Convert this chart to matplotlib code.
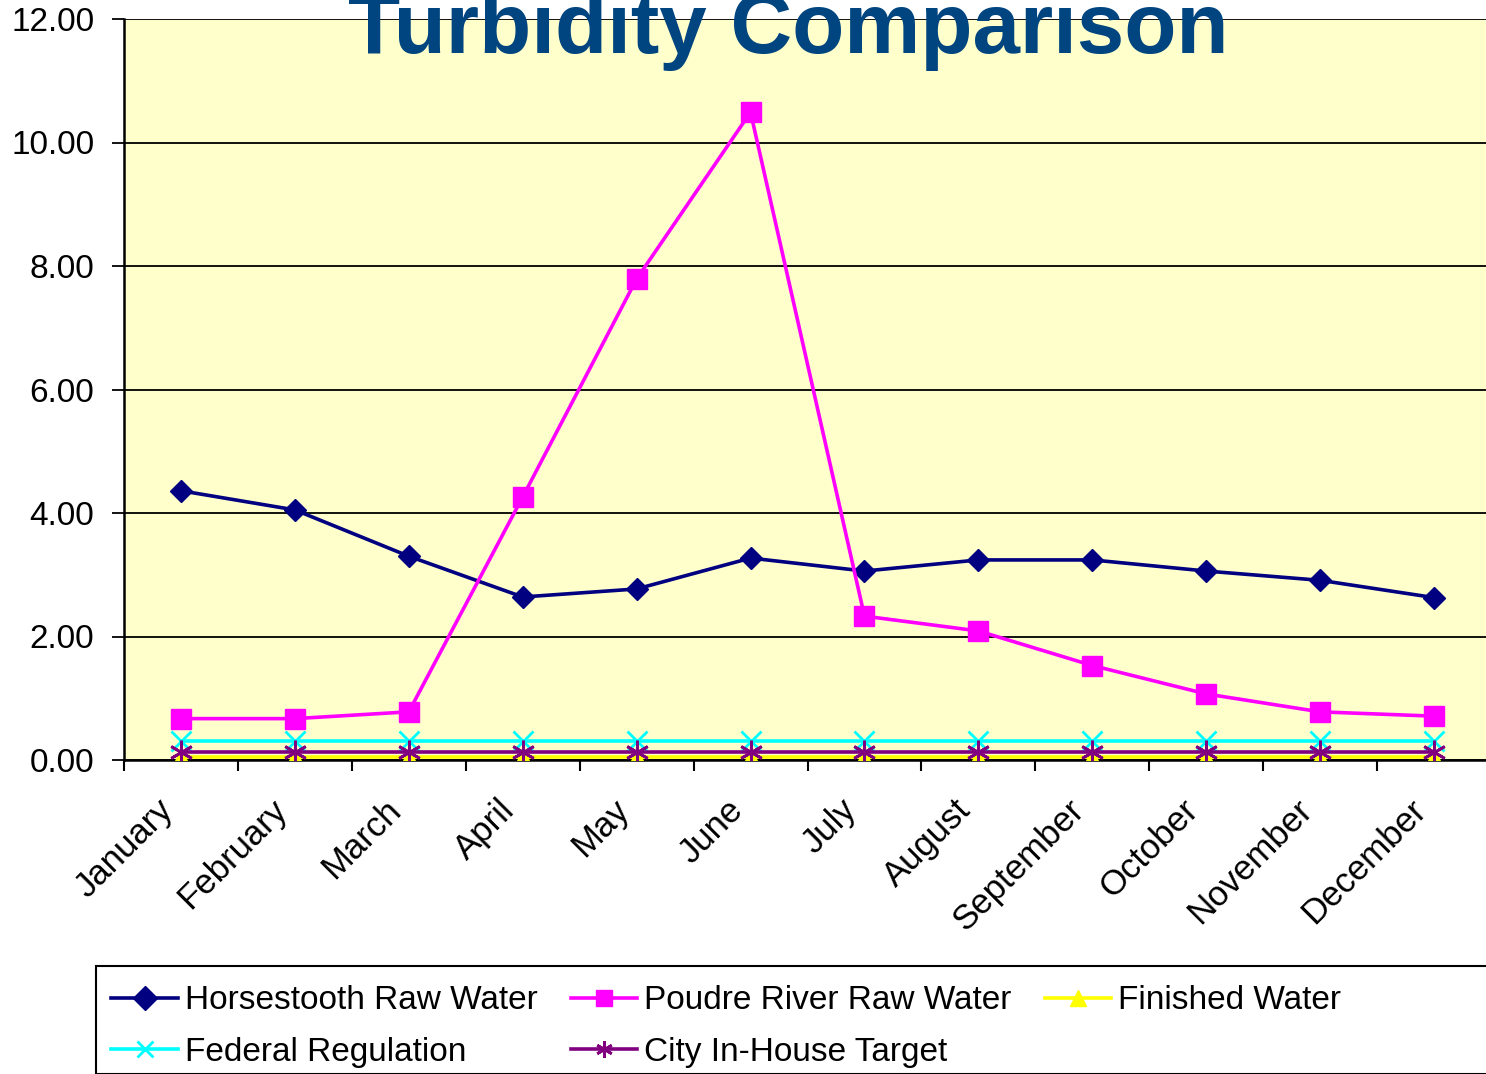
import matplotlib
matplotlib.use("Agg")
import matplotlib.pyplot as plt
from matplotlib.patches import Rectangle
from matplotlib.transforms import ScaledTranslation
import numpy as np

plt.rcParams['font.family'] = ['Liberation Sans', 'DejaVu Sans']

months = ["January", "February", "March", "April", "May", "June", "July",
          "August", "September", "October", "November", "December"]
horsetooth = [4.36, 4.05, 3.30, 2.64, 2.77, 3.27, 3.06, 3.24, 3.24, 3.06, 2.91, 2.63]
poudre = [0.67, 0.67, 0.78, 4.26, 7.79, 10.49, 2.33, 2.09, 1.53, 1.07, 0.78, 0.71]
finished = [0.05] * 12
federal = [0.30] * 12
city_target = [0.13] * 12
yticks = [0, 2, 4, 6, 8, 10, 12]

W, H = 1486, 1074
fig = plt.figure(figsize=(W / 100, H / 100), dpi=100)
ax = fig.add_axes([124 / W, 1 - 760 / H, (1491 - 124) / W, (760 - 19) / H])
ax.set_facecolor('#FFFFCC')

x = np.arange(len(months))
l1, = ax.plot(x, horsetooth, color='#000080', lw=2.6, marker='D', ms=11, label='Horsestooth Raw Water', zorder=5)
l2, = ax.plot(x, poudre, color='#FF00FF', lw=2.6, marker='s', ms=15, label='Poudre River Raw Water', zorder=5)
l3, = ax.plot(x, finished, color='#FFFF00', lw=2.6, marker='^', ms=11, label='Finished Water', zorder=3)
l4, = ax.plot(x, federal, color='#00FFFF', lw=2.6, marker='x', ms=14, mew=2, label='Federal Regulation', zorder=4)
l5, = ax.plot(x, city_target, color='#800080', lw=2.6, marker=(6, 2, 0), ms=17, mew=2, label='City In-House Target', zorder=4)

ax.set_xlim(-0.5, 11.5)
ax.set_ylim(0, 12)
ax.set_yticks(yticks)
ax.set_yticklabels([f"{v:.2f}" for v in yticks], fontsize=24)
ax.yaxis.grid(True, color='black', lw=1.3)
ax.set_axisbelow(True)

ax.set_xticks(np.arange(-0.5, 12, 1))
ax.set_xticklabels([])
ax.tick_params(axis='x', length=8, width=1.5, direction='out')
ax.tick_params(axis='y', length=8.5, width=1.3, direction='out', pad=13)

# month labels
offset = ScaledTranslation(-13 / 100, -45 / 100, fig.dpi_scale_trans)
for xi, m in zip(x, months):
    ax.text(xi, 0, m, transform=ax.get_xaxis_transform() + offset,
            rotation=45, ha='right', va='center', rotation_mode='anchor',
            fontsize=25, clip_on=False)

for s in ['top', 'right']:
    ax.spines[s].set_visible(False)
for s in ['left', 'bottom']:
    ax.spines[s].set_linewidth(1.8)
    ax.spines[s].set_color('black')

fig.text(788 / W, 1 - 53 / H, "Turbidity Comparison", ha='center', va='baseline',
         fontsize=61.5, fontweight='bold', color='#00457F')

# legend frame
fig.patches.append(Rectangle((96 / W, 0), 1.0, (1074 - 966) / H, transform=fig.transFigure,
                             facecolor='white', edgecolor='black', lw=1.5, zorder=0))
leg = fig.legend([l1, l4, l2, l5, l3],
                 [l1.get_label(), l4.get_label(), l2.get_label(), l5.get_label(), l3.get_label()],
                 ncol=3, loc='upper left', bbox_to_anchor=(98 / W, 1 - 972 / H),
                 frameon=False, fontsize=24, handlelength=2.0, handletextpad=0.2,
                 columnspacing=1.0, labelspacing=0.62, borderaxespad=0)
for h in leg.legend_handles:
    h.set_markersize(12)

fig.savefig("out.png", dpi=100)
